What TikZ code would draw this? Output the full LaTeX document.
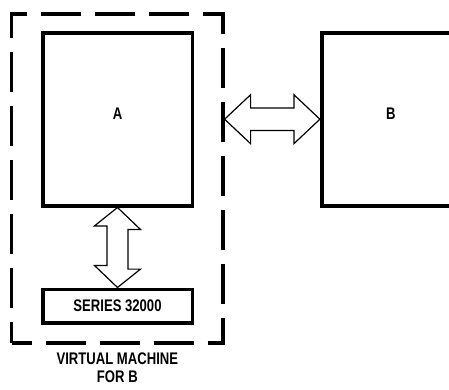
\documentclass[tikz,border=0pt]{standalone}
\usepackage{fontspec}
\setmainfont{Liberation Sans}[FakeStretch=0.78]
\usetikzlibrary{positioning}

\begin{document}
\begin{tikzpicture}[x=1pt,y=-1pt,
    every node/.style={font=\fontsize{16.8}{18}\selectfont\bfseries},
    unit/.style={draw,line width=3.6pt,inner sep=0pt},
    bigunit/.style={unit,minimum height=173pt,text depth=11pt},
    vmbox/.style={draw,line width=3.2pt,inner sep=0pt,
                  dash pattern=on 40pt off 14pt,dash phase=20pt},
    fatarrow/.style={draw,line width=1.2pt,line join=miter}]
  \useasboundingbox (0,0) rectangle (449,389);
  \clip (0,0) rectangle (449,389);
  %% virtual machine for B
  \node[vmbox,minimum width=211.3pt,minimum height=329pt] (vm) at (117.35,178.5) {};
  \node[bigunit,minimum width=149.6pt] (a) at (117.5,119.2) {A};
  \node[unit,minimum width=149.6pt,minimum height=33.4pt] (s) at (117.5,306) {SERIES 32000};
  \node[align=center,inner sep=0pt,below=8pt of vm] (vmlabel) {VIRTUAL MACHINE\\FOR B};
  %% machine B
  \node[bigunit,minimum width=138.3pt] (b) at (390.85,119.2) {B};
  %% A <-> SERIES 32000
  \draw[fatarrow] (a.south) -- ++(23,22) -- ++(-12.5,0) -- ++(0,39.6) -- ++(12.5,0)
    -- (s.north) -- ++(-23,-22) -- ++(12.5,0) -- ++(0,-39.6) -- ++(-12.5,0) -- cycle;
  %% virtual machine <-> B
  \draw[fatarrow] (vm.east |- a) -- ++(26,-24.5) -- ++(0,13.2) -- ++(43.3,0) -- ++(0,-13.2)
    -- (b.west) -- ++(-26,24.5) -- ++(0,-13.2) -- ++(-43.3,0) -- ++(0,13.2) -- cycle;
\end{tikzpicture}
\end{document}
